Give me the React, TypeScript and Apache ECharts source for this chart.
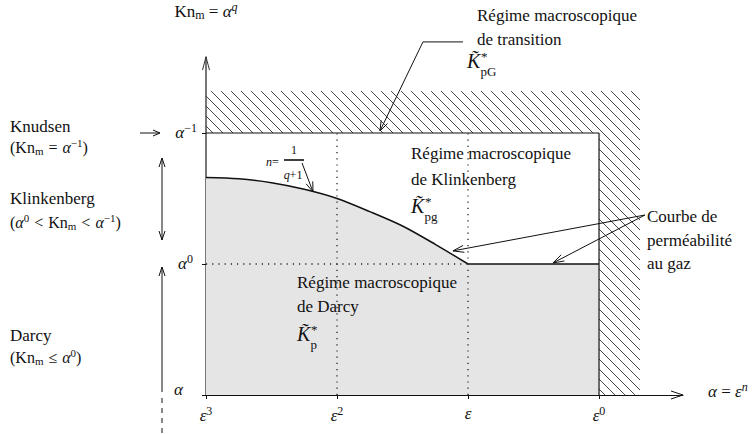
import React, { useEffect, useRef } from 'react';
import * as echarts from 'echarts';

// ---- data ----
const curveX = [0, 0.25, 0.5, 0.75, 1, 1.25, 1.5, 1.75, 2];
const curveY = [1.66, 1.65, 1.62, 1.57, 1.5, 1.4, 1.29, 1.15, 1.0];
const plateauX = [2, 3];
const plateauY = [1.0, 1.0];
const xTicks = [0, 1, 2, 3];
const xTickExponents = ['3', '2', '', '0'];
const yTicks = [0, 1, 2];
const yTickExponents = ['', '0', '−1'];

// ---- layout constants ----
const X_MAX = 3.641;
const Y_MAX = 2.58;
const HATCH_TOP = 2.32;
const HATCH_RIGHT = 3.313;
const Y_LABEL_PAD = [14, 4, 0];
const SERIF = '"Liberation Serif", "Times New Roman", Times, serif';
const INK = '#111';

type Pt = [number, number];

function arrowHead(tip: Pt, from: Pt, L = 10, W = 3.5, color = INK) {
  const dx = tip[0] - from[0];
  const dy = tip[1] - from[1];
  const len = Math.hypot(dx, dy) || 1;
  const ux = dx / len;
  const uy = dy / len;
  const bx = tip[0] - ux * L;
  const by = tip[1] - uy * L;
  return {
    type: 'polyline',
    shape: { points: [[bx - uy * W, by + ux * W], tip, [bx + uy * W, by - ux * W]] },
    style: { stroke: color, fill: 'none', lineWidth: 1 },
  };
}

function seg(a: Pt, b: Pt, style: any) {
  return { type: 'line', shape: { x1: a[0], y1: a[1], x2: b[0], y2: b[1] }, style };
}

const smallRich = {
  sub: { fontSize: 11, fontFamily: SERIF, padding: [7, 0, 0, 0] },
  sup: { fontSize: 11, fontFamily: SERIF, padding: [0, 0, 8, 0] },
  it: { fontSize: 16, fontFamily: SERIF, fontStyle: 'italic' },
  r: { fontSize: 16, fontFamily: SERIF, padding: [0, 5, 0, 5] },
};

function txt(x: number, y: number, text: string, fontSize = 17, extra: any = {}) {
  return {
    type: 'text',
    x,
    y,
    z: 10,
    style: {
      text,
      fontSize,
      fontFamily: SERIF,
      fill: INK,
      align: 'left',
      verticalAlign: 'middle',
      ...extra,
    },
  };
}

function kLabel(x: number, y: number, sub: string) {
  return [
    txt(x, y, 'K\u0303', 20, { fontStyle: 'italic', lineHeight: 16 }),
    txt(x + 14, y - 5, '*', 13, { lineHeight: 9 }),
    txt(x + 13.5, y + 10, sub, 13, { lineHeight: 10 }),
  ];
}

export default function App() {
  const ref = useRef<HTMLDivElement>(null);

  useEffect(() => {
    const chart = echarts.init(ref.current!, null, { renderer: 'svg' });

    const xLabel = (v: number) => {
      const i = xTicks.findIndex((t) => Math.abs(t - v) < 1e-6);
      if (i < 0) return '';
      const e = xTickExponents[i];
      return e ? `{b|ε}{s|${e}}` : '{b|ε}';
    };
    const yLabel = (v: number) => {
      const i = yTicks.findIndex((t) => Math.abs(t - v) < 1e-6);
      if (i < 0) return '';
      const e = yTickExponents[i];
      return e ? `{a|α}{s${i}|${e}}` : `{a0|α}`;
    };
    const yRich: any = {
      a: { fontSize: 17, fontStyle: 'italic', fontFamily: SERIF, color: INK },
      a0: { fontSize: 17, fontStyle: 'italic', fontFamily: SERIF, color: INK, padding: [0, Y_LABEL_PAD[0], 12, 0] },
    };
    yTicks.forEach((_, i) => {
      yRich['s' + i] = { fontSize: 12, fontFamily: SERIF, color: INK, padding: [0, Y_LABEL_PAD[i], 9, 0] };
    });

    const graphic: any[] = [
      // left regime labels
      txt(10, 126, 'Knudsen'),
      txt(10, 147, '(Kn{sub|m}{r|=}{it|α}{sup|−1})', 16, { rich: smallRich }),
      txt(10, 198, 'Klinkenberg'),
      txt(10, 222, '({it|α}{sup|0}{r|<}Kn{sub|m}{r|<}{it|α}{sup|−1})', 16, { rich: smallRich }),
      txt(10, 335, 'Darcy'),
      txt(10, 357, '(Kn{sub|m}{r|≤}{it|α}{sup|0})', 16, { rich: smallRich }),
      // left arrows
      seg([140, 133], [160, 133], { stroke: INK, lineWidth: 1 }),
      arrowHead([160, 133], [140, 133], 7, 3),
      seg([162, 158], [162, 240], { stroke: INK, lineWidth: 1 }),
      arrowHead([162, 158], [162, 240], 9, 3),
      arrowHead([162, 240], [162, 158], 9, 3),
      seg([162, 392], [162, 267], { stroke: INK, lineWidth: 1 }),
      arrowHead([162, 267], [162, 392], 9, 3),
      seg([162, 398], [162, 434], { stroke: INK, lineWidth: 1, lineDash: [5, 5] }),
      // regime texts
      txt(477, 15, 'Régime macroscopique'),
      txt(477, 39, 'de transition'),
      ...kLabel(467, 61, 'pG'),
      txt(411, 153, 'Régime macroscopique'),
      txt(411, 179, 'de Klinkenberg'),
      ...kLabel(411, 206, 'pg'),
      txt(297, 282, 'Régime macroscopique'),
      txt(297, 306, 'de Darcy'),
      ...kLabel(297, 334, 'p'),
      txt(647, 216, 'Courbe de'),
      txt(647, 240, 'perméabilité'),
      txt(647, 263, 'au gaz'),
      // n = 1/(q+1)
      txt(266, 162, '{it|n}=', 12, { rich: { it: { fontSize: 12, fontFamily: SERIF, fontStyle: 'italic' } } }),
      txt(294, 150, '1', 12, { align: 'center', lineHeight: 12 }),
      seg([284, 160], [304, 160], { stroke: INK, lineWidth: 1.6 }),
      txt(293, 175, '{it|q}+1', 12, {
        align: 'center',
        lineHeight: 12,
        rich: { it: { fontSize: 12, fontFamily: SERIF, fontStyle: 'italic' } },
      }),
    ];

    const option: any = {
      animation: false,
      backgroundColor: '#fff',
      textStyle: { fontFamily: SERIF },
      grid: { left: 206, right: 73, top: 57, bottom: 39, containLabel: false },
      xAxis: {
        type: 'value',
        min: 0,
        max: X_MAX,
        interval: 1,
        splitLine: { show: false },
        axisLine: { lineStyle: { color: INK, width: 1.2 } },
        axisTick: { show: true, length: 4, customValues: xTicks, lineStyle: { color: INK } },
        axisLabel: {
          customValues: xTicks,
          margin: 10,
          formatter: xLabel,
          rich: {
            b: { fontSize: 17, fontStyle: 'italic', fontFamily: SERIF, color: INK },
            s: { fontSize: 12, fontFamily: SERIF, color: INK, padding: [0, 0, 9, 0] },
          },
        },
        name: '{a|α} = {b|ε}{s|n}',
        nameLocation: 'end',
        nameGap: 25,
        nameTextStyle: {
          fontSize: 17,
          fontFamily: SERIF,
          color: INK,
          padding: [0, 0, 8, 0],
          rich: {
            a: { fontSize: 17, fontStyle: 'italic', fontFamily: SERIF, color: INK },
            b: { fontSize: 17, fontStyle: 'italic', fontFamily: SERIF, color: INK },
            s: { fontSize: 12, fontStyle: 'italic', fontFamily: SERIF, color: INK, padding: [0, 0, 9, 0] },
          },
        },
      },
      yAxis: {
        type: 'value',
        min: 0,
        max: Y_MAX,
        interval: 1,
        splitLine: { show: false },
        axisLine: { lineStyle: { color: '#555', width: 1.6 } },
        axisTick: { show: true, length: 4, customValues: yTicks, lineStyle: { color: INK } },
        axisLabel: {
          customValues: yTicks,
          margin: 9,
          formatter: yLabel,
          rich: yRich,
        },
        name: 'Kn{sub|m} = {a|α}{sup|q}',
        nameLocation: 'end',
        nameGap: 35,
        nameTextStyle: {
          fontSize: 17,
          fontFamily: SERIF,
          color: INK,
          rich: {
            a: { fontSize: 17, fontStyle: 'italic', fontFamily: SERIF, color: INK },
            sub: { fontSize: 12, fontFamily: SERIF, color: INK, padding: [7, 0, 0, 0] },
            sup: { fontSize: 12, fontStyle: 'italic', fontFamily: SERIF, color: INK, padding: [0, 0, 9, 0] },
          },
        },
      },
      graphic,
      series: [
        {
          type: 'line',
          data: curveX.map((x, i) => [x, curveY[i]]),
          smooth: 0.3,
          symbol: 'none',
          lineStyle: { color: INK, width: 1.5 },
          areaStyle: { color: '#e5e5e5', opacity: 1 },
          z: 2,
        },
        {
          type: 'line',
          data: plateauX.map((x, i) => [x, plateauY[i]]),
          symbol: 'none',
          lineStyle: { color: INK, width: 1.5 },
          areaStyle: { color: '#e5e5e5', opacity: 1 },
          z: 2,
        },
        {
          type: 'custom',
          coordinateSystem: 'cartesian2d',
          data: [[0, 0]],
          silent: true,
          z: 4,
          renderItem: (_params: any, api: any) => {
            const c = (x: number, y: number): Pt => api.coord([x, y]);
            const children: any[] = [];
            // hatching (L-shaped region)
            const rects = [
              [0, 2, HATCH_RIGHT, HATCH_TOP],
              [3, 0, HATCH_RIGHT, 2],
            ];
            const s = 10;
            for (const [xa, ya, xb, yb] of rects) {
              const p1 = c(xa, yb);
              const p2 = c(xb, ya);
              const x0 = p1[0], y0 = p1[1], x1 = p2[0], y1 = p2[1];
              for (let k = Math.ceil((y0 - x1) / s) * s; k <= y1 - x0; k += s) {
                const xs = Math.max(x0, y0 - k);
                const xe = Math.min(x1, y1 - k);
                if (xe > xs) children.push(seg([xs, xs + k], [xe, xe + k], { stroke: '#333', lineWidth: 0.9 }));
              }
            }
            // dotted guides
            const dot = { stroke: '#222', lineWidth: 1.3, lineDash: [1.2, 5] };
            children.push(seg(c(1, 0), c(1, 2), dot));
            children.push(seg(c(2, 0), c(2, 2), dot));
            children.push(seg(c(0, 1), c(2, 1), dot));
            // box
            const box = { stroke: INK, lineWidth: 1.2 };
            children.push(seg(c(0, 2), c(3, 2), box));
            children.push(seg(c(3, 2), c(3, 0), box));
            // axis arrowheads
            children.push(arrowHead(c(X_MAX, 0), c(0, 0), 12, 4));
            children.push(arrowHead(c(0, Y_MAX), c(0, 0), 13, 3.5, '#333'));
            // transition annotation
            const t0 = c(1.962, 2.695), t1 = c(1.656, 2.695), t2 = c(1.328, 2.015);
            children.push({ type: 'polyline', shape: { points: [t0, t1, t2] }, style: { stroke: INK, fill: 'none', lineWidth: 1 } });
            children.push(arrowHead(t2, t1, 10, 3.5));
            // n = 1/(q+1) arrow
            const n0 = c(0.733, 1.771), n1 = c(0.817, 1.55);
            children.push(seg(n0, n1, { stroke: INK, lineWidth: 1 }));
            children.push(arrowHead(n1, n0, 10, 3.5));
            // courbe de permeabilite arrows
            const g0 = c(3.351, 1.374);
            const g1 = c(1.885, 1.1);
            const g2 = c(2.649, 1.008);
            children.push(seg(g0, g1, { stroke: INK, lineWidth: 1 }));
            children.push(arrowHead(g1, g0, 11, 3.5));
            children.push(seg(g0, g2, { stroke: INK, lineWidth: 1 }));
            children.push(arrowHead(g2, g0, 11, 3.5));
            return { type: 'group', children };
          },
        },
      ],
    };

    chart.setOption(option);
    return () => chart.dispose();
  }, []);

  return <div ref={ref} style={{ position: 'absolute', left: 0, top: 0, width: 756, height: 434 }} />;
}
